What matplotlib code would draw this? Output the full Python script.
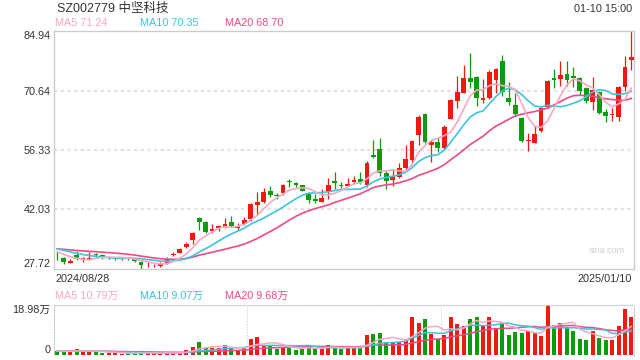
import numpy as np
import pandas as pd
import matplotlib
matplotlib.use("Agg")
import matplotlib.pyplot as plt

plt.rcParams['font.family'] = ['Liberation Sans', 'Noto Sans CJK SC', 'DejaVu Sans']

# daily candles 2024/08/28 .. 2025/01/10
opens = [30.6, 30.35, 29.15, 31.0, 30.1, 30.0, 31.3, 30.9, 30.3, 30.0,
         30.0, 30.2, 29.96, 29.4, 28.3, 28.5, 28.4, 29.14, 31.1, 31.55,
         32.86, 34.62, 40.0, 38.96, 36.8, 37.6, 37.76, 38.96, 37.44, 38.48,
         39.68, 43.06, 43.78, 46.44, 45.4, 45.88, 48.92, 48.3, 47.8, 45.95,
         44.44, 43.86, 46.27, 48.92, 47.9, 47.7, 48.6, 49.33, 47.88, 55.12,
         56.64, 50.7, 49.09, 49.89, 51.98, 53.91, 60.0, 65.01, 57.53, 58.33,
         56.88, 63.88, 68.22, 70.15, 73.62, 73.86, 68.47, 68.8, 73.21, 77.79,
         68.94, 67.18, 64.12, 58.6, 58.09, 60.91, 66.77, 73.77, 73.45, 74.66,
         74.18, 73.62, 71.35, 68.0, 70.39, 65.42, 64.8, 64.36, 71.6, 78.11]
highs = [31.8, 30.45, 30.0, 32.0, 30.6, 31.65, 31.4, 31.2, 30.75, 30.3,
         30.3, 30.6, 30.1, 29.5, 29.2, 28.9, 29.2, 30.45, 31.8, 32.76,
         34.14, 36.62, 40.24, 39.2, 38.5, 38.2, 40.0, 40.4, 38.65, 40.24,
         43.6, 46.2, 47.16, 47.64, 45.88, 48.12, 49.26, 48.68, 47.95, 46.27,
         45.71, 46.92, 49.5, 51.09, 48.5, 49.57, 50.05, 50.95, 53.67, 58.74,
         59.15, 51.26, 51.5, 53.26, 57.53, 58.74, 64.77, 65.32, 58.74, 59.15,
         62.36, 68.63, 74.18, 76.83, 79.65, 74.18, 73.54, 75.62, 76.18, 79.24,
         72.66, 70.0, 64.21, 60.35, 62.19, 66.53, 73.21, 75.86, 77.79, 77.79,
         76.42, 74.0, 71.6, 74.0, 70.56, 66.22, 66.53, 71.76, 79.0, 84.94]
lows = [29.9, 28.8, 29.0, 29.8, 29.4, 29.8, 30.2, 30.1, 30.1, 29.9,
        29.9, 29.7, 29.3, 27.72, 28.1, 28.1, 28.1, 28.9, 30.75, 31.4,
        32.6, 33.65, 37.03, 36.3, 36.3, 36.8, 37.4, 37.68, 37.03, 38.24,
        39.27, 40.89, 43.47, 44.92, 44.5, 45.47, 47.33, 47.47, 46.36, 43.6,
        43.6, 43.71, 44.5, 46.92, 47.08, 47.64, 48.12, 48.05, 47.5, 54.32,
        50.13, 46.92, 47.72, 49.5, 51.5, 53.26, 57.53, 57.94, 53.5, 55.92,
        56.57, 63.73, 66.53, 70.0, 71.21, 66.94, 67.65, 68.63, 70.0, 69.42,
        67.18, 64.6, 58.33, 56.09, 57.94, 60.74, 66.53, 71.21, 71.84, 71.84,
        71.6, 69.59, 67.59, 65.97, 64.94, 63.15, 63.39, 63.39, 70.56, 75.62]
closes = [30.4, 29.4, 29.55, 30.0, 30.25, 30.25, 31.1, 30.4, 30.4, 30.1,
          30.1, 30.1, 29.5, 28.6, 28.4, 28.6, 29.0, 29.96, 31.2, 32.45,
          33.65, 36.38, 39.0, 36.55, 37.2, 38.0, 38.48, 38.0, 38.07, 39.44,
          43.3, 43.78, 46.2, 45.47, 45.2, 47.88, 48.6, 47.88, 46.5, 44.27,
          44.02, 44.82, 47.88, 48.44, 47.7, 48.12, 49.1, 48.68, 53.26, 54.7,
          50.7, 48.92, 50.13, 52.06, 54.16, 58.5, 64.21, 58.18, 58.18, 56.74,
          61.8, 68.39, 70.32, 73.62, 72.8, 68.8, 68.86, 75.21, 75.86, 70.39,
          67.98, 64.94, 58.5, 58.8, 60.19, 66.38, 72.97, 73.21, 74.42, 73.21,
          73.62, 70.63, 68.22, 70.79, 65.18, 64.53, 65.0, 71.6, 76.42, 78.83]
# volume, 万 shares
volumes = [1.52, 1.27, 1.27, 2.28, 1.27, 1.52, 1.27, 0.76, 0.76, 0.76,
           0.5, 0.76, 0.76, 1.0, 0.76, 0.63, 0.76, 0.89, 0.76, 1.0,
           1.9, 3.04, 4.93, 2.78, 2.78, 2.53, 3.8, 2.78, 1.77, 2.53,
           6.07, 6.83, 3.8, 3.8, 2.28, 3.04, 2.78, 2.02, 2.53, 3.04,
           2.28, 2.78, 3.8, 3.04, 2.28, 2.53, 3.04, 3.04, 7.59, 7.84,
           8.35, 4.81, 4.81, 4.81, 5.82, 14.4, 12.1, 13.7, 7.97, 6.07,
           7.59, 14.4, 11.8, 11.0, 13.7, 14.4, 11.1, 14.4, 10.1, 12.0,
           7.59, 8.73, 8.35, 9.1, 8.35, 7.2, 18.98, 11.4, 12.1, 10.6,
           9.1, 6.07, 5.69, 9.1, 6.45, 5.69, 5.69, 11.0, 17.5, 14.4]
# sessions before the window, only used for the moving averages
prior_closes = [32.0, 32.3, 32.6, 32.4, 32.8, 32.5, 32.7, 32.4, 32.6, 32.7,
                33.0, 33.4, 33.5, 33.2, 32.9, 32.6, 32.3, 32.0, 31.7]
prior_volumes = [1.6, 1.4, 1.5, 1.7, 1.3, 1.5, 1.6, 1.4, 1.5, 1.6,
                 1.4, 1.5, 1.3, 1.6, 1.5, 1.4, 1.6, 1.5, 1.4]

price_ticks = [27.72, 42.03, 56.33, 70.64, 84.94]
vol_top = 18.98
ma_windows = [5, 10, 20]
ma_price_text = ['71.24', '70.35', '68.70']
ma_vol_text = ['10.79万', '9.07万', '9.68万']
first_date, last_date = '2024/08/28', '2025/01/10'
title = 'SZ002779 中坚科技'
stamp = '01-10 15:00'

RED, GREEN = '#f2190e', '#0b9c0b'
C5, C10, C20 = '#f7a8c4', '#3cc4de', '#ee4a84'
TXT = '#333333'
BORDER = '#cccccc'

n = len(closes)
x = np.arange(n)
o, h, l, c = map(np.array, (opens, highs, lows, closes))
up = c >= o
cols = np.where(up, RED, GREEN)

allc = pd.Series(prior_closes + closes)
allv = pd.Series(prior_volumes + volumes)
k = len(prior_closes)
ma = {w: allc.rolling(w).mean().values[k:] for w in ma_windows}
vma = {w: allv.rolling(w).mean().values[k:] for w in ma_windows}

fig = plt.figure(figsize=(6.4, 3.6), dpi=100)
L, W = 54 / 640, 580 / 640
ax = fig.add_axes([L, (360 - 268.6) / 360, W, 237.2 / 360])
axv = fig.add_axes([L, 5 / 360, W, 50 / 360])

# price panel
ax.vlines(x, l, h, colors=cols, lw=0.9, zorder=2)
body_lo = np.minimum(o, c)
body_h = np.maximum(np.abs(c - o), 0.12)
ax.bar(x, body_h, bottom=body_lo, width=0.74, color=cols, lw=0, zorder=3)
ax.plot(x, ma[20], color=C20, lw=1.2, zorder=4)
ax.plot(x, ma[10], color=C10, lw=1.2, zorder=4)
ax.plot(x, ma[5], color=C5, lw=1.2, zorder=4)
for t in price_ticks[1:-1]:
    ax.axhline(t, color='#e3e3e3', lw=1.6, ls=(0, (1.5, 1.5)), zorder=1)
ax.set_xlim(-0.5, n - 0.6)
ax.set_ylim(price_ticks[0], price_ticks[-1])
ax.set_yticks(price_ticks)
ax.set_yticklabels([f'{t:.2f}' for t in price_ticks])
ax.set_xticks([])
ax.tick_params(axis='y', length=0, pad=2.5, labelsize=7.8, labelcolor=TXT)
tl = ax.get_yticklabels()
tl[0].set_va('bottom')
tl[-1].set_va('top')
for s in ax.spines.values():
    s.set_color(BORDER)
    s.set_linewidth(1)
ax.text(0.985, 0.075, 'sina.com', transform=ax.transAxes, ha='right',
        va='center', fontsize=6.5, color='#d0d0d0')

# volume panel
axv.bar(x, volumes, width=0.62, color=cols, lw=0, zorder=2)
axv.plot(x, vma[20], color=C20, lw=1.1, zorder=3)
axv.plot(x, vma[10], color=C10, lw=1.1, zorder=3)
axv.plot(x, vma[5], color=C5, lw=1.1, zorder=3)
axv.set_xlim(-0.5, n - 0.6)
axv.set_ylim(0, vol_top)
axv.set_xticks([])
axv.set_yticks([0, vol_top])
axv.set_yticklabels(['0', f'{vol_top:.2f}万'])
axv.tick_params(axis='y', length=0, pad=2.5, labelsize=7.8, labelcolor=TXT)
vl = axv.get_yticklabels()
vl[0].set_va('bottom')
vl[1].set_va('top')
for side in ('top', 'left', 'right'):
    axv.spines[side].set_color('#c8c8c8')
    axv.spines[side].set_linestyle((0, (1, 1.5)))
axv.spines['bottom'].set_visible(False)
for f in (1 / 3, 2 / 3):
    axv.plot([f, f], [0, 1], transform=axv.transAxes, color='#cfcfcf',
             lw=0.8, ls=(0, (1, 1.5)), zorder=1)

# header texts
fig.text(57 / 640, 1 - 9 / 360, title, fontsize=9, color=TXT, va='center')
fig.text(632 / 640, 1 - 9 / 360, stamp, fontsize=7.8, color=TXT,
         va='center', ha='right')
leg_x = [55, 140, 225]
for xx, w, pt, vt, col in zip(leg_x, ma_windows, ma_price_text, ma_vol_text,
                              (C5, C10, C20)):
    fig.text(xx / 640, 1 - 23 / 360, f'MA{w} {pt}', fontsize=7.8,
             color=col, va='center')
    fig.text(xx / 640, 1 - 296 / 360, f'MA{w} {vt}',
             fontsize=7.8, color=col, va='center')
fig.text(55 / 640, 1 - 279 / 360, first_date, fontsize=7.8, color=TXT,
         va='center')
fig.text(632 / 640, 1 - 279 / 360, last_date, fontsize=7.8, color=TXT,
         va='center', ha='right')

fig.savefig('out.png', dpi=100)
